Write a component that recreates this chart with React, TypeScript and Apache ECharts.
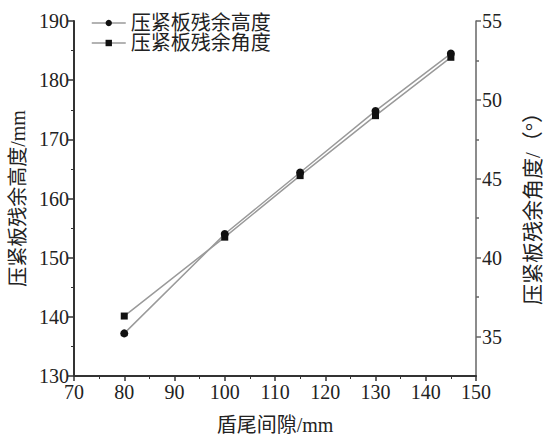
import React, { useEffect, useRef } from "react";
import * as echarts from "echarts";

const gaps = [80, 100, 115, 130, 145];
const residualHeight = [137.2, 154.0, 164.4, 174.8, 184.5];
const residualAngle = [36.3, 41.3, 45.2, 49.0, 52.7];
const rightLabelValues = [35, 40, 45, 50, 55];
const rightMinorValues = [37.5, 42.5, 47.5, 52.5];
const nameHeight = "压紧板残余高度";
const nameAngle = "压紧板残余角度";

const FONT = "'Liberation Serif', 'Noto Sans CJK SC', serif";

export default function App() {
  const ref = useRef<HTMLDivElement>(null);
  useEffect(() => {
    if (!ref.current) return;
    const chart = echarts.init(ref.current, null, { renderer: "svg" });
    const axisColor = "#333";
    chart.setOption({
      animation: false,
      backgroundColor: "#fff",
      textStyle: { fontFamily: FONT },
      grid: { left: 74, right: 63, top: 21, bottom: 62 },
      legend: {
        orient: "vertical",
        left: 86,
        top: 8,
        itemWidth: 34,
        itemHeight: 8,
        itemGap: 0,
        lineStyle: { color: "#9a9a9a", width: 1.5 },
        textStyle: { fontSize: 20, color: "#222", fontFamily: FONT },
        data: [nameHeight, nameAngle],
      },
      xAxis: {
        type: "value",
        min: 70,
        max: 150,
        interval: 10,
        name: "盾尾间隙/mm",
        nameLocation: "middle",
        nameGap: 39,
        nameTextStyle: { fontSize: 20, color: "#222", fontFamily: FONT },
        axisLine: { show: true, lineStyle: { color: axisColor, width: 2 } },
        axisTick: { show: true, length: 5, lineStyle: { color: axisColor, width: 1.5 } },
        minorTick: { show: true, splitNumber: 2, length: 3, lineStyle: { color: axisColor } },
        axisLabel: { fontSize: 20, color: "#222", margin: 6, fontFamily: FONT },
        splitLine: { show: false },
      },
      yAxis: [
        {
          type: "value",
          min: 130,
          max: 190,
          interval: 10,
          position: "left",
          name: "压紧板残余高度/mm",
          nameLocation: "middle",
          nameRotate: 90,
          nameGap: 46,
          nameTextStyle: { fontSize: 20, color: "#222", fontFamily: FONT },
          axisLine: { show: true, lineStyle: { color: axisColor, width: 2 } },
          axisTick: { show: true, length: 6, lineStyle: { color: axisColor, width: 1.5 } },
          minorTick: { show: true, splitNumber: 2, length: 3, lineStyle: { color: axisColor } },
          axisLabel: { fontSize: 20, color: "#222", margin: 5, fontFamily: FONT },
          splitLine: { show: false },
        },
        {
          type: "value",
          min: 32.5,
          max: 55,
          position: "right",
          name: "压紧板残余角度/（°）",
          nameLocation: "middle",
          nameRotate: 90,
          nameGap: 46,
          nameTextStyle: {
            fontSize: 21,
            color: "#222",
            fontFamily: FONT,
            padding: [0, 10, 0, 0],
          },
          axisLine: { show: true, lineStyle: { color: "#666", width: 1.5 } },
          axisTick: {
            show: true,
            length: 5,
            customValues: rightLabelValues,
            lineStyle: { color: "#666", width: 1.5 },
          },
          axisLabel: {
            fontSize: 20,
            color: "#222",
            margin: 6,
            fontFamily: FONT,
            customValues: rightLabelValues,
          },
          splitLine: { show: false },
        },
        {
          type: "value",
          min: 32.5,
          max: 55,
          position: "right",
          axisLine: { show: false },
          axisTick: {
            show: true,
            length: 3,
            customValues: rightMinorValues,
            lineStyle: { color: "#666", width: 1.5 },
          },
          axisLabel: { show: false },
          splitLine: { show: false },
        },
      ],
      series: [
        {
          name: nameHeight,
          type: "line",
          yAxisIndex: 0,
          data: gaps.map((g, i) => [g, residualHeight[i]]),
          symbol: "circle",
          symbolSize: 8,
          lineStyle: { color: "#9a9a9a", width: 1.5 },
          itemStyle: { color: "#111" },
        },
        {
          name: nameAngle,
          type: "line",
          yAxisIndex: 1,
          data: gaps.map((g, i) => [g, residualAngle[i]]),
          symbol: "rect",
          symbolSize: 7,
          lineStyle: { color: "#9a9a9a", width: 1.5 },
          itemStyle: { color: "#111" },
        },
      ],
    });
    return () => chart.dispose();
  }, []);
  return (
    <div
      ref={ref}
      style={{ position: "fixed", left: 0, top: 0, width: 551, height: 440 }}
    />
  );
}
